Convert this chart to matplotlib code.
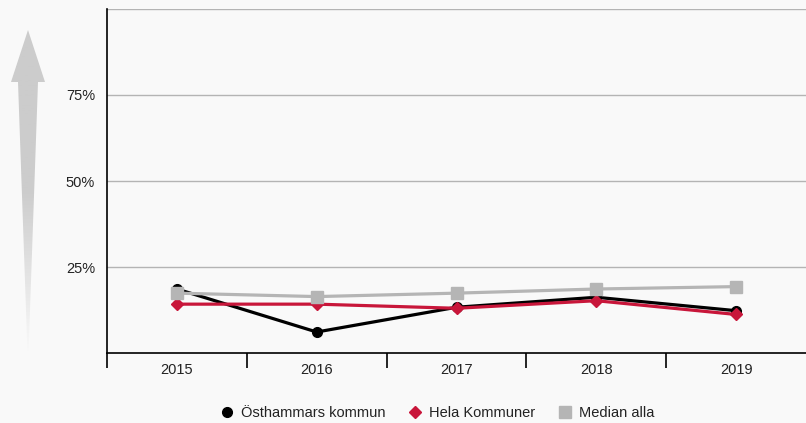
import numpy as np
import matplotlib.pyplot as plt
from matplotlib.path import Path
from matplotlib.patches import PathPatch
from matplotlib.colors import LinearSegmentedColormap

plt.rcParams['font.family'] = ['Liberation Sans', 'DejaVu Sans']

# === Data ===
years = ['2015', '2016', '2017', '2018', '2019']
osthammar = [18.6, 6.1, 13.3, 16.2, 12.3]
hela = [14.2, 14.2, 13.0, 15.2, 11.2]
median = [17.4, 16.4, 17.4, 18.6, 19.3]
yticks = [25, 50, 75]
ytick_labels = ['25%', '50%', '75%']

bg = '#f9f9f9'
red = '#c8163a'
gray = '#b5b5b5'

# === Figure ===
W, H = 806, 423
fig = plt.figure(figsize=(W / 100, H / 100), dpi=100, facecolor=bg)
ax = fig.add_axes([107 / W, (H - 353) / H, (W - 107) / W, (353 - 9) / H])
ax.set_facecolor(bg)

x = np.arange(len(years))
ax.plot(x, osthammar, color='black', lw=2.3, marker='o', ms=7, zorder=3,
        label='Östhammars kommun')
ax.plot(x, hela, color=red, lw=2.3, marker='D', ms=6, zorder=4,
        label='Hela Kommuner')
ax.plot(x, median, color=gray, lw=2.3, marker='s', ms=8, zorder=5,
        label='Median alla')

ax.set_xlim(-0.5, len(years) - 0.5)
ax.set_ylim(0, 100)

# gridlines
for v in [25, 50, 75, 100]:
    ax.axhline(v, color='#b4b4b4', lw=1, zorder=1)

ax.set_yticks(yticks)
ax.set_yticklabels(ytick_labels, fontsize=10.5, color='#222222')
ax.tick_params(axis='y', length=0, pad=8.5)

ax.set_xticks(x)
ax.set_xticklabels(years, fontsize=10.5, color='#222222')
ax.set_xticks(np.arange(-0.5, len(years) - 1, 1), minor=True)
ax.tick_params(axis='x', which='major', length=0, pad=7)
ax.tick_params(axis='x', which='minor', length=10.5, width=1.2, color='black', direction='out')

for s in ['top', 'right']:
    ax.spines[s].set_visible(False)
ax.spines['left'].set_color('black')
ax.spines['left'].set_linewidth(1.2)
ax.spines['bottom'].set_color('black')
ax.spines['bottom'].set_linewidth(1.2)

# === Arrow on the left (gradient) ===
arrow_verts = [(28, 30), (45, 82), (38, 82), (28.5, 352), (27.5, 352), (18, 82), (11, 82), (28, 30)]
verts = [(vx / W, 1 - vy / H) for vx, vy in arrow_verts]
path = Path(verts, [Path.MOVETO] + [Path.LINETO] * 6 + [Path.CLOSEPOLY])
patch = PathPatch(path, transform=fig.transFigure, facecolor='none', edgecolor='none')
fig.patches.append(patch)
grad = np.linspace(0, 1, 256).reshape(-1, 1)
gax = fig.add_axes([0, 0, 1, 1], zorder=-1)
gax.set_axis_off()
cmap = LinearSegmentedColormap.from_list('fade', ['#cccccc', '#cccccc', bg])
im = gax.imshow(grad, cmap=cmap, aspect='auto', extent=[0, 1, 1 - 352 / H, 1 - 30 / H],
                origin='upper', transform=fig.transFigure)
im.set_clip_path(patch)
gax.set_xlim(0, 1)
gax.set_ylim(0, 1)
gax.patch.set_alpha(0)

# === Legend ===
fig.legend(loc='center', bbox_to_anchor=(437 / W, 1 - 413 / H), ncol=3, frameon=False,
           fontsize=10.5, handlelength=1.0, handletextpad=0.5, columnspacing=1.5,
           labelcolor='#222222')
leg = fig.legends[0]
for h in leg.legend_handles:
    h.set_linestyle('none')

plt.savefig('out.png', dpi=100, facecolor=bg)
